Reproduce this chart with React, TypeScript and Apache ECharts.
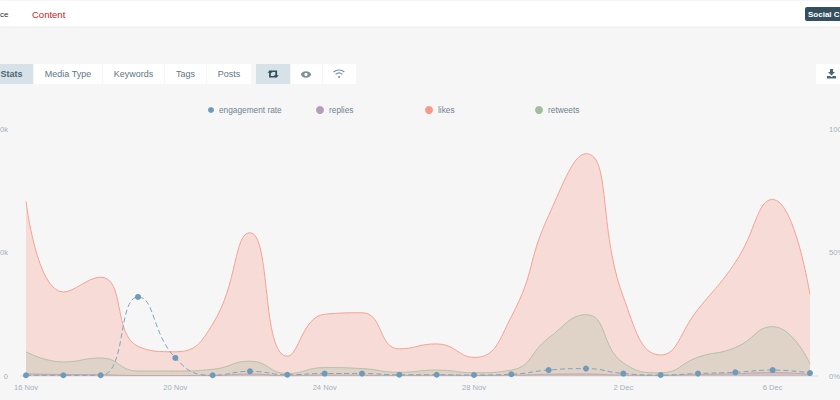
import React, { useEffect, useRef } from "react";
import * as echarts from "echarts";

const days = ["16 Nov","17 Nov","18 Nov","19 Nov","20 Nov","21 Nov","22 Nov","23 Nov","24 Nov","25 Nov","26 Nov","27 Nov","28 Nov","29 Nov","30 Nov","1 Dec","2 Dec","3 Dec","4 Dec","5 Dec","6 Dec","7 Dec"];
const likes = [70.7,34,40,12,9.8,21,58,8,25,25.6,11,13,7.5,24,65,90,32,8.5,27,46,71.5,33];
const retweets = [9.8,5.7,7.3,2,2,2.7,6,1,3.4,3,1.5,2.4,1.3,2.4,15.4,24.8,5.3,1.3,7.6,11.5,20,4.9];
const replies = [0.9,0.6,0.5,0.2,0.2,0.2,0.8,0.1,0.4,0.3,0.2,0.3,0.2,0.3,0.7,0.8,0.3,0.2,0.6,0.9,1.4,0.6];
const engagement = [0.3,0.3,0.3,32,7.3,0.3,1.9,0.5,1,1,0.5,0.5,0.4,0.7,2.4,3,1,0.4,1,1.5,2.4,1.2];
const leftTicks: Record<number, string> = { 0: "0", 50: "50k", 100: "100k" };
const tabs = [
  { label: "Stats", x: 0, w: 33, on: true },
  { label: "Media Type", x: 34, w: 68, on: false },
  { label: "Keywords", x: 103, w: 61, on: false },
  { label: "Tags", x: 165, w: 41, on: false },
  { label: "Posts", x: 207, w: 44, on: false },
];

const SLATE = "#5f7684";
const FONT = "'Liberation Sans', Arial, sans-serif";
const SMOOTH = 0.5;

echarts.graphic.registerShape("dlIcon", echarts.graphic.extendPath("M3 0H6V3H8L4.5 6.5L1 3H3ZM0 7H3L4.5 8L6 7H9V9.5H0Z", {}) as any);
echarts.graphic.registerShape("rtIcon", echarts.graphic.extendPath("M2.5 0L5 2.8H3.4V6H7L8.6 7.6H1.6V2.8H0ZM2.8 0.4H9.6V5.2H11.2L8.7 8L6.2 5.2H7.8V2H4.4Z", {}) as any);

function tabRect(x: number, w: number, on: boolean) {
  return { type: "rect", silent: true, shape: { x, y: 64, width: w, height: 20 }, style: { fill: on ? "#d6e2e8" : "#ffffff" } };
}
function tabText(text: string, x: number, on: boolean) {
  return { type: "text", silent: true, x, y: 74, style: { text, fill: on ? "#4e6573" : SLATE, font: `${on ? "bold " : ""}9px ${FONT}`, align: "center", verticalAlign: "middle" } };
}

function makeLegend(name: string, left: number, size: number) {
  return {
    data: [{ name, icon: "circle" }], left, top: 101, itemWidth: size, itemHeight: size, itemGap: 0,
    selectedMode: false, textStyle: { color: "#6f8491", fontSize: 8.3, fontFamily: FONT },
  };
}

export default function App() {
  const ref = useRef<HTMLDivElement>(null);
  useEffect(() => {
    const chart = echarts.init(ref.current!, undefined, { renderer: "svg", width: 840, height: 400 });
    const graphics: any[] = [
      { type: "rect", silent: true, z: -1, shape: { x: 0, y: 1, width: 840, height: 26 }, style: { fill: "#ffffff" } },
      { type: "line", silent: true, shape: { x1: 0, y1: 27, x2: 840, y2: 27 }, style: { stroke: "#ececec", lineWidth: 1 } },
      { type: "text", silent: true, x: 0, y: 14, style: { text: "ce", fill: "#333", font: `8px ${FONT}`, verticalAlign: "middle" } },
      { type: "text", silent: true, x: 32, y: 14, style: { text: "Content", fill: "#d02020", font: `9.5px ${FONT}`, verticalAlign: "middle" } },
      { type: "rect", silent: true, shape: { x: 805, y: 7, width: 60, height: 14, r: 2 }, style: { fill: "#34505f" } },
      { type: "text", silent: true, x: 808, y: 14, style: { text: "Social C", fill: "#fff", font: `bold 8px ${FONT}`, verticalAlign: "middle" } },
    ];
    tabs.forEach((t) => {
      graphics.push(tabRect(t.x, t.w, t.on));
      graphics.push(tabText(t.label, t.x + t.w / 2 + (t.on ? -5 : 0), t.on));
    });
    graphics.push(tabRect(256, 34, true), tabRect(291, 31, false), tabRect(323, 33, false), tabRect(816, 24, false));
    graphics.push(
      { type: "rtIcon", silent: true, x: 267.5, y: 70, style: { fill: "#34505f" } },
      { type: "ellipse", silent: true, shape: { cx: 306, cy: 74.5, rx: 5, ry: 3.2 }, style: { fill: "#7d919d" } },
      { type: "circle", silent: true, shape: { cx: 306, cy: 74.5, r: 1.6 }, style: { fill: "#fff" } },
      { type: "arc", silent: true, shape: { cx: 339, cy: 78, r: 8, startAngle: -2.3, endAngle: -0.84 }, style: { stroke: "#7d919d", fill: "none", lineWidth: 1.2 } },
      { type: "arc", silent: true, shape: { cx: 339, cy: 78, r: 5, startAngle: -2.3, endAngle: -0.84 }, style: { stroke: "#7d919d", fill: "none", lineWidth: 1.2 } },
      { type: "circle", silent: true, shape: { cx: 339, cy: 77, r: 1 }, style: { fill: "#7d919d" } },
      { type: "dlIcon", silent: true, x: 827, y: 69, style: { fill: "#4e6573" } },
      { type: "line", silent: true, shape: { x1: 20, y1: 376, x2: 818, y2: 376 }, style: { stroke: "#d8dde0", lineWidth: 1 } },
    );
    chart.setOption({
      animation: false,
      backgroundColor: "#f6f6f6",
      textStyle: { fontFamily: FONT },
      legend: [
        makeLegend("engagement rate", 203, 6),
        makeLegend("replies", 311, 8),
        makeLegend("likes", 420, 8),
        makeLegend("retweets", 530, 8),
      ],
      grid: { left: 26, right: 30, top: 129, bottom: 24, outerBoundsMode: "none" },
      xAxis: {
        type: "category", data: days, boundaryGap: false,
        axisLine: { show: false }, axisTick: { show: false }, splitLine: { show: false },
        axisLabel: { interval: 3, color: "#a3b0b8", fontSize: 7.6, margin: 7, hideOverlap: false },
      },
      yAxis: [
        {
          type: "value", min: 0, max: 100, interval: 50, splitLine: { show: false }, axisLine: { show: false }, axisTick: { show: false },
          axisLabel: { color: "#a3b0b8", fontSize: 7.6, margin: 18, formatter: (v: number) => leftTicks[v] ?? "" },
        },
        {
          type: "value", min: 0, max: 100, interval: 50, position: "right", splitLine: { show: false }, axisLine: { show: false }, axisTick: { show: false },
          axisLabel: { color: "#a3b0b8", fontSize: 7.6, margin: 19, formatter: "{value}%" },
        },
      ],
      series: [
        { name: "likes", type: "line", data: likes, z: 2, smooth: SMOOTH, showSymbol: false, itemStyle: { color: "#f7988a" }, lineStyle: { color: "#f7a193", width: 1 }, areaStyle: { color: "#f7b4a8", opacity: 0.4 } },
        { name: "retweets", type: "line", data: retweets, z: 3, smooth: SMOOTH, showSymbol: false, itemStyle: { color: "#a3bd9f" }, lineStyle: { color: "#b3c2a8", width: 1 }, areaStyle: { color: "#a9bda4", opacity: 0.3 } },
        { name: "replies", type: "line", data: replies, z: 4, smooth: SMOOTH, showSymbol: false, itemStyle: { color: "#b49db8" }, lineStyle: { color: "#c9a6a8", width: 1 }, areaStyle: { color: "#b49db8", opacity: 0.3 } },
        { name: "engagement rate", type: "line", yAxisIndex: 1, data: engagement, z: 5, smooth: SMOOTH, symbol: "circle", symbolSize: 6, showSymbol: true, showAllSymbol: true, itemStyle: { color: "#6f9ab9" }, lineStyle: { color: "#7ea3bd", width: 1, type: [5, 3] } },
      ],
      graphic: graphics,
    });
    return () => chart.dispose();
  }, []);
  return <div ref={ref} style={{ position: "fixed", left: 0, top: 0, width: 840, height: 400, overflow: "hidden" }} />;
}
